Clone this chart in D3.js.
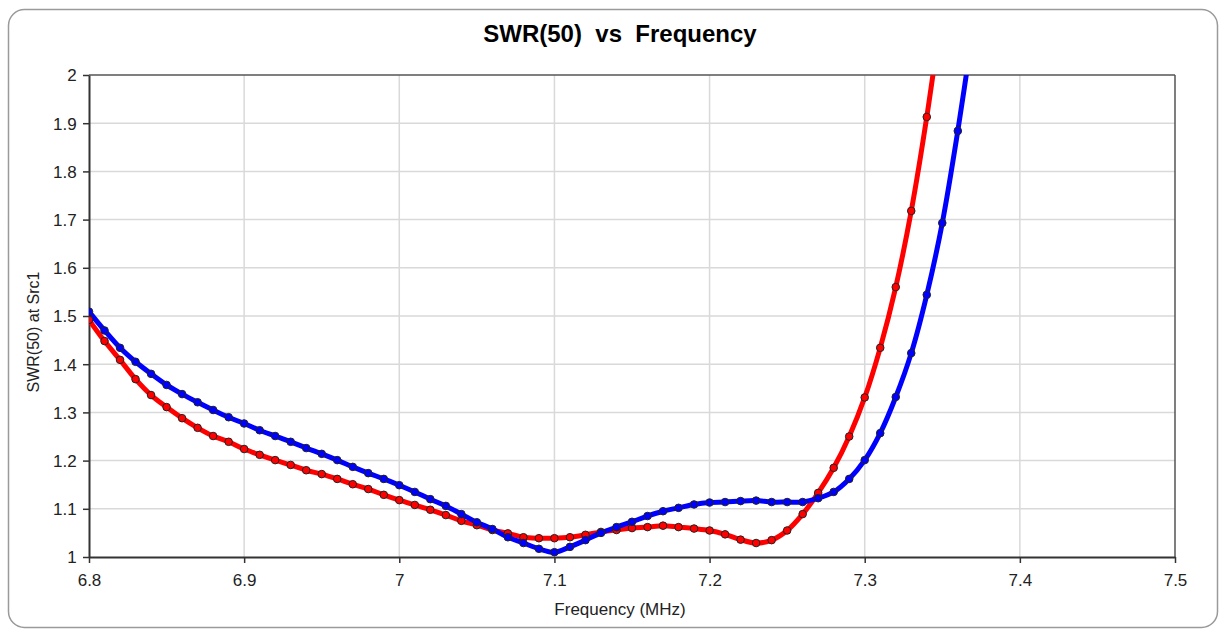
<!DOCTYPE html>
<html>
<head>
<meta charset="utf-8">
<script src="https://cdn.jsdelivr.net/npm/d3@7"></script>
<style>
  html, body { margin: 0; padding: 0; background: #fff; }
  svg { display: block; font-family: "Liberation Sans", Arial, sans-serif; }
</style>
</head>
<body>
<svg id="chart" width="1221" height="629"></svg>
<script>
// ---- data ----
const freq = [6.80,6.81,6.82,6.83,6.84,6.85,6.86,6.87,6.88,6.89,
              6.90,6.91,6.92,6.93,6.94,6.95,6.96,6.97,6.98,6.99,
              7.00,7.01,7.02,7.03,7.04,7.05,7.06,7.07,7.08,7.09,
              7.10,7.11,7.12,7.13,7.14,7.15,7.16,7.17,7.18,7.19,
              7.20,7.21,7.22,7.23,7.24,7.25,7.26,7.27,7.28,7.29,
              7.30,7.31,7.32,7.33,7.34,7.35,7.36,7.37];
const swrRed = [1.492,1.448,1.409,1.369,1.336,1.311,1.288,1.268,1.251,1.239,
                1.224,1.212,1.201,1.191,1.180,1.172,1.162,1.151,1.141,1.129,
                1.118,1.108,1.098,1.087,1.075,1.066,1.056,1.049,1.041,1.039,
                1.039,1.041,1.046,1.052,1.056,1.060,1.062,1.065,1.062,1.059,
                1.055,1.047,1.036,1.029,1.035,1.055,1.089,1.133,1.185,1.250,
                1.331,1.434,1.560,1.718,1.913,2.140];
const swrBlue = [1.509,1.470,1.434,1.405,1.380,1.357,1.338,1.321,1.305,1.290,
                 1.277,1.263,1.251,1.239,1.226,1.214,1.201,1.187,1.174,1.162,
                 1.149,1.135,1.120,1.106,1.089,1.072,1.058,1.041,1.029,1.017,
                 1.010,1.021,1.035,1.050,1.062,1.073,1.085,1.095,1.102,1.109,
                 1.113,1.114,1.116,1.117,1.114,1.114,1.114,1.122,1.135,1.162,
                 1.201,1.257,1.332,1.423,1.544,1.693,1.884,2.100];
const xTicks = [6.8, 6.9, 7.0, 7.1, 7.2, 7.3, 7.4, 7.5];
const yTicks = [1, 1.1, 1.2, 1.3, 1.4, 1.5, 1.6, 1.7, 1.8, 1.9, 2];
const xTickLabels = ["6.8","6.9","7","7.1","7.2","7.3","7.4","7.5"];
const yTickLabels = ["1","1.1","1.2","1.3","1.4","1.5","1.6","1.7","1.8","1.9","2"];
const titleText = "SWR(50)  vs  Frequency";
const xTitle = "Frequency (MHz)";
const yTitle = "SWR(50) at Src1";

// ---- layout ----
const svg = d3.select("#chart");
const L = 89, R = 1175, T = 75, B = 557;
const x = d3.scaleLinear().domain([6.8, 7.5]).range([L, R]);
const y = d3.scaleLinear().domain([1, 2]).range([B, T]);

// outer rounded frame
svg.append("rect")
  .attr("x", 8.5).attr("y", 9.5).attr("width", 1209).attr("height", 618)
  .attr("rx", 16).attr("ry", 16)
  .attr("fill", "#fff").attr("stroke", "#9a9a9a").attr("stroke-width", 1.5);

// title
svg.append("text")
  .attr("x", 620).attr("y", 42)
  .attr("text-anchor", "middle")
  .attr("font-size", 24).attr("font-weight", "bold")
  .style("white-space", "pre")
  .attr("fill", "#000")
  .text(titleText);

// grid
const grid = svg.append("g");
grid.selectAll(".gx").data(xTicks.slice(1, -1)).enter().append("line")
  .attr("x1", d => x(d)).attr("x2", d => x(d))
  .attr("y1", T).attr("y2", B)
  .attr("stroke", "#d9d9d9").attr("stroke-width", 1.5);
grid.selectAll(".gy").data(yTicks.slice(1, -1)).enter().append("line")
  .attr("y1", d => y(d)).attr("y2", d => y(d))
  .attr("x1", L).attr("x2", R)
  .attr("stroke", "#d9d9d9").attr("stroke-width", 1.5);

// plot frame (top & right)
svg.append("line").attr("x1", L).attr("x2", R).attr("y1", T).attr("y2", T)
  .attr("stroke", "#555").attr("stroke-width", 1.5);
svg.append("line").attr("x1", R).attr("x2", R).attr("y1", T).attr("y2", B)
  .attr("stroke", "#555").attr("stroke-width", 1.5);

// axes
const xAxis = d3.axisBottom(x).tickValues(xTicks)
  .tickFormat((d, i) => xTickLabels[i]).tickSize(6).tickSizeOuter(0);
const yAxis = d3.axisLeft(y).tickValues(yTicks)
  .tickFormat((d, i) => yTickLabels[i]).tickSize(6).tickSizeOuter(0);

const gx = svg.append("g").attr("transform", `translate(0,${B})`).call(xAxis);
const gy = svg.append("g").attr("transform", `translate(${L},0)`).call(yAxis);
[gx, gy].forEach(g => {
  g.select(".domain").attr("stroke", "#333").attr("stroke-width", 2);
  g.selectAll(".tick line").attr("stroke", "#333").attr("stroke-width", 1.5);
  g.selectAll(".tick text").attr("fill", "#222")
    .attr("font-size", 17).attr("font-family", "'Liberation Sans', Arial, sans-serif");
});
gx.selectAll(".tick text").attr("dy", "1.15em");
gy.selectAll(".tick text").attr("dx", "-0.2em").attr("dy", "0.35em");

// axis titles
svg.append("text")
  .attr("x", 620).attr("y", 615)
  .attr("text-anchor", "middle")
  .attr("font-size", 17).attr("fill", "#222")
  .text(xTitle);
svg.append("text")
  .attr("transform", `translate(39,332) rotate(-90)`)
  .attr("text-anchor", "middle")
  .attr("font-size", 16).attr("fill", "#222")
  .text(yTitle);

// clip
svg.append("clipPath").attr("id", "plotClip")
  .append("rect").attr("x", L).attr("y", T).attr("width", R - L).attr("height", B - T);

const redData = swrRed.map((v, i) => [freq[i], v]);
const blueData = swrBlue.map((v, i) => [freq[i], v]);

const line = d3.line()
  .x(d => x(d[0])).y(d => y(d[1]))
  .curve(d3.curveCatmullRom.alpha(0.5));

const plot = svg.append("g").attr("clip-path", "url(#plotClip)");
plot.append("path").datum(redData)
  .attr("d", line).attr("fill", "none")
  .attr("stroke", "#ff0000").attr("stroke-width", 5)
  .attr("stroke-linejoin", "round");
plot.append("path").datum(blueData)
  .attr("d", line).attr("fill", "none")
  .attr("stroke", "#0000ff").attr("stroke-width", 5)
  .attr("stroke-linejoin", "round");

const inRange = d => d[1] <= 2;
plot.selectAll(".mr").data(redData.filter(inRange)).enter().append("circle")
  .attr("cx", d => x(d[0])).attr("cy", d => y(d[1])).attr("r", 3.8)
  .attr("fill", "#ff0000").attr("stroke", "#222").attr("stroke-width", 1);
plot.selectAll(".mb").data(blueData.filter(inRange)).enter().append("circle")
  .attr("cx", d => x(d[0])).attr("cy", d => y(d[1])).attr("r", 3.8)
  .attr("fill", "#0000ff").attr("stroke", "#222").attr("stroke-width", 1);
</script>
</body>
</html>
